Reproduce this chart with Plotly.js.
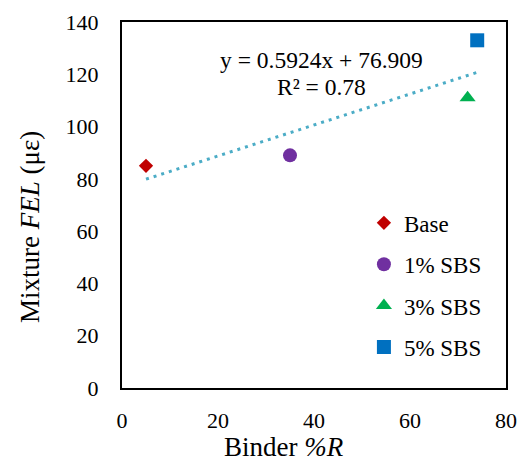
<!DOCTYPE html>
<html>
<head>
<meta charset="utf-8">
<script src="https://cdn.plot.ly/plotly-3.0.1.min.js"></script>
<style>html,body{margin:0;padding:0;background:#fff;}</style>
</head>
<body>
<div id="chart" style="width:526px;height:462px;"></div>
<script>
// Data
const seriesNames = ["Base", "1% SBS", "3% SBS", "5% SBS"];
const binderR = [5, 35, 72, 74];
const mixtureFEL = [85, 89, 111, 133];
const seriesColors = ["#C00000", "#7030A0", "#00B050", "#0070C0"];
const seriesSymbols = ["diamond", "circle", "triangle-up", "square"];
const seriesSizes = [11, 14, 14, 14];
// Trendline coefficients (as printed on the chart)
const trendSlope = 0.5924;
const trendIntercept = 76.909;
const trendR2 = 0.78;
const xTicks = [0, 20, 40, 60, 80];
const yTicks = [0, 20, 40, 60, 80, 100, 120, 140];

const FONT = '"Liberation Serif", serif';

const traces = seriesNames.map((n, i) => ({
  type: "scatter", mode: "markers", name: n,
  x: [binderR[i]], y: [mixtureFEL[i]],
  marker: {symbol: seriesSymbols[i], color: seriesColors[i], size: seriesSizes[i]},
  legendgroup: "g" + i, showlegend: true
}));

const xMin = Math.min(...binderR), xMax = Math.max(...binderR);
traces.unshift({
  type: "scatter", mode: "lines", showlegend: false,
  x: [xMin, xMax],
  y: [trendSlope * xMin + trendIntercept, trendSlope * xMax + trendIntercept],
  line: {color: "#4BACC6", width: 3, dash: "3px,5px"}
});

const layout = {
  width: 526, height: 462,
  margin: {l: 122, r: 20, t: 22, b: 74},
  paper_bgcolor: "#fff", plot_bgcolor: "#fff",
  font: {family: FONT, color: "#000", size: 22},
  showlegend: true,
  legend: {
    x: 0.63, xanchor: "left", y: 0.51, yanchor: "top",
    bgcolor: "rgba(0,0,0,0)", font: {family: FONT, size: 23, color: "#000"},
    traceorder: "grouped", tracegroupgap: 8.5, itemwidth: 30
  },
  xaxis: {
    range: [0, 80], tickvals: xTicks, ticktext: xTicks.map(String),
    showgrid: false, zeroline: false, ticks: "",
    showline: true, mirror: true, linecolor: "#000", linewidth: 2,
    tickfont: {family: FONT, size: 22}, ticklabelstandoff: 12
  },
  yaxis: {
    range: [0, 140], tickvals: yTicks, ticktext: yTicks.map(String),
    showgrid: false, zeroline: false, ticks: "",
    showline: true, mirror: true, linecolor: "#000", linewidth: 2,
    tickfont: {family: FONT, size: 22}, ticklabelstandoff: 17
  },
  annotations: [
    {xref: "x", yref: "y", x: 41.5, y: 125.5, showarrow: false,
     text: "y = " + trendSlope + "x + " + trendIntercept,
     font: {family: FONT, size: 23.5, color: "#000"}},
    {xref: "x", yref: "y", x: 41.5, y: 115.2, showarrow: false,
     text: "R² = " + trendR2,
     font: {family: FONT, size: 23.5, color: "#000"}},
    {xref: "paper", yref: "paper", x: (284 - 122) / 384, y: (462 - 74 - 447) / 366,
     xanchor: "center", yanchor: "middle", showarrow: false,
     text: "Binder <i>%R</i>", font: {family: FONT, size: 27, color: "#000"}},
    {xref: "paper", yref: "paper", x: (30 - 122) / 384, y: (388 - 227) / 366,
     xanchor: "center", yanchor: "middle", showarrow: false, textangle: -90,
     text: "Mixture <i>FEL</i> (με)", font: {family: FONT, size: 27, color: "#000"}}
  ]
};

Plotly.newPlot("chart", traces, layout, {displayModeBar: false});
</script>
</body>
</html>
